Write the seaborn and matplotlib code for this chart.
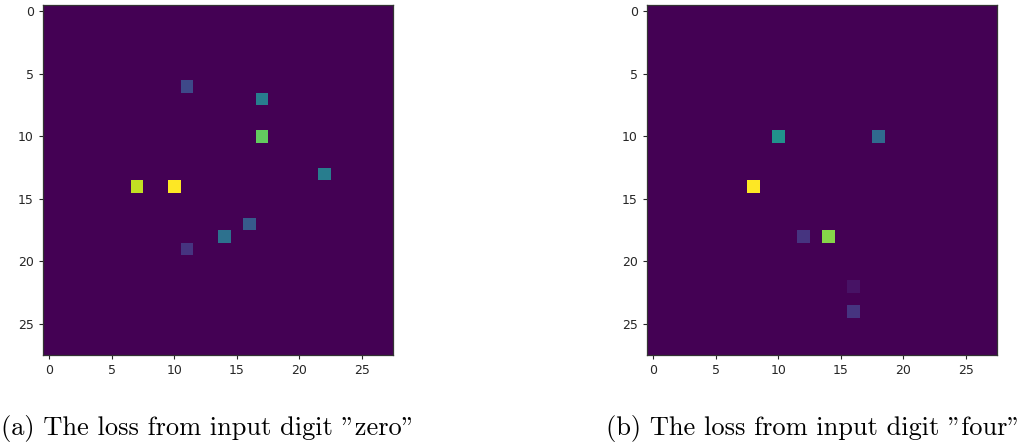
import numpy as np
import matplotlib
matplotlib.use("Agg")
import matplotlib.pyplot as plt
import seaborn as sns

GRID = 28
TICKS = [0, 5, 10, 15, 20, 25]

# Per-pixel loss for input digit "zero" (row, column, value)
zero_rows = [6, 7, 10, 13, 14, 14, 17, 18, 19]
zero_cols = [11, 17, 17, 22, 7, 10, 16, 14, 11]
zero_vals = [0.22, 0.42, 0.76, 0.42, 0.91, 1.00, 0.28, 0.37, 0.15]

# Per-pixel loss for input digit "four" (row, column, value)
four_rows = [10, 10, 14, 18, 18, 22, 24]
four_cols = [10, 18, 8, 12, 14, 16, 16]
four_vals = [0.50, 0.34, 1.00, 0.15, 0.82, 0.05, 0.15]

captions = ['(a) The loss from input digit "zero"',
            '(b) The loss from input digit "four"']


def loss_map(rows, cols, vals):
    grid = np.zeros((GRID, GRID))
    grid[rows, cols] = vals
    return grid


maps = [loss_map(zero_rows, zero_cols, zero_vals),
        loss_map(four_rows, four_cols, four_vals)]

fig = plt.figure(figsize=(10.22, 4.43), dpi=100)
lefts = [43 / 1022, 647 / 1022]
cap_x = [1 / 1022, 606 / 1022]

for grid, left, cx, cap in zip(maps, lefts, cap_x, captions):
    ax = fig.add_axes([left, 88 / 443, 350 / 1022, 350 / 443])
    sns.heatmap(grid, ax=ax, cmap="viridis", cbar=False, square=True,
                xticklabels=False, yticklabels=False)
    ax.set_xlim(0, GRID)
    ax.set_ylim(GRID, 0)
    ax.set_xticks([t + 0.5 for t in TICKS])
    ax.set_xticklabels([str(t) for t in TICKS], rotation=0, fontsize=9,
                       color="#262626")
    ax.set_yticks([t + 0.5 for t in TICKS])
    ax.set_yticklabels([str(t) for t in TICKS], rotation=0, fontsize=9,
                       color="#262626")
    ax.tick_params(length=3, width=0.8, pad=3.5, colors="#262626",
                   labelcolor="#262626")
    for s in ax.spines.values():
        s.set_visible(True)
        s.set_linewidth(0.9)
        s.set_color("#333333")
        s.set_zorder(5)
    fig.text(cx, 15 / 443, cap, fontsize=19, family="cmr10",
             ha="left", va="center")

fig.savefig("out.png", dpi=100)
